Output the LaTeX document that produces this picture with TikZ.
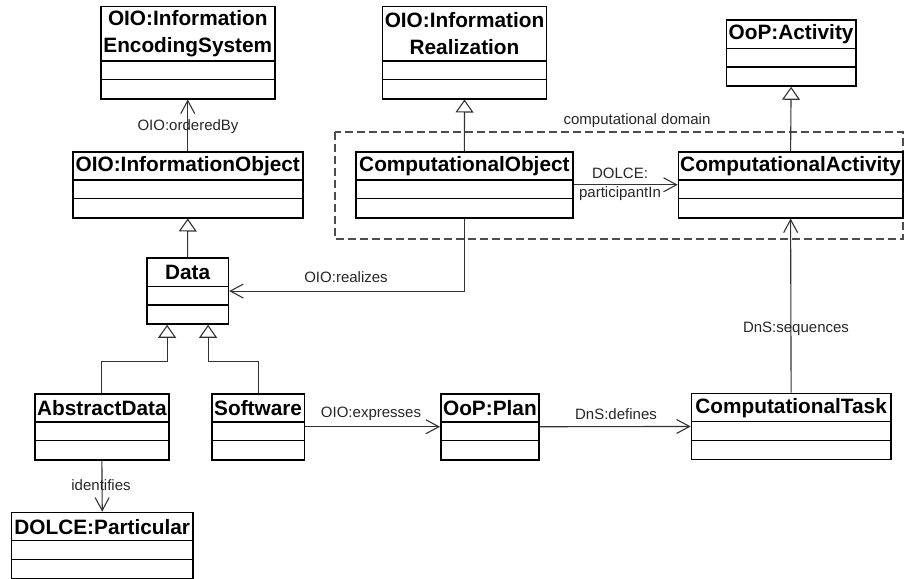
\documentclass[tikz,border=0pt]{standalone}
\usepackage{fontspec}
\setmainfont{Liberation Sans}
\usetikzlibrary{arrows.meta,calc}

\tikzset{
  umlbox/.style={draw=black, line width=1.5pt, fill=white, inner sep=0pt, anchor=north west},
  umltitle/.style={font=\fontsize{20.8}{27}\selectfont\bfseries, align=center, inner sep=0pt},
  umlrule/.style={draw=black, line width=1.4pt},
  assoc/.style={draw=black!80, line width=1.1pt,
    -{Straight Barb[length=13pt,width=14pt,line width=1.1pt]}},
  gen/.style={draw=black!80, line width=1.1pt,
    -{Triangle[open,length=13pt,width=18pt,line width=1.1pt]}},
  lbl/.style={font=\fontsize{15}{19}\selectfont, text=black!85, inner sep=0pt, align=center},
  domainbox/.style={draw=black!70, line width=1.2pt, dash pattern=on 8pt off 4pt},
}

% UML class: name, left x, top y, right x, title height, title text
\newcommand{\umlclass}[6]{%
  \node[umlbox, minimum width={#4-#2}, minimum height={#5+37}] (#1) at (#2,#3) {};
  \node[umltitle] (#1-title) at ($(#1.north)+(0,#5/2+0.5)$) {#6};
  \draw[umlrule] ($(#1.north west)+(0,#5)$) -- ($(#1.north east)+(0,#5)$);
  \draw[umlrule] ($(#1.north west)+(0,#5+18.5)$) -- ($(#1.north east)+(0,#5+18.5)$);
}

\begin{document}
\begin{tikzpicture}[x=1pt,y=-1pt]
\useasboundingbox (0,0) rectangle (904,578);

% computational domain frame
\draw[domainbox] (335,132) rectangle (903,239);
\node[lbl] (domain-label) at (637,121) {computational domain};

% classes
\umlclass{ies}{100}{6}{274}{55}{OIO:Information\\EncodingSystem}
\umlclass{ir}{381.7}{6}{545.8}{55}{OIO:Information\\Realization}
\umlclass{act}{725.7}{19.3}{855}{29}{OoP:Activity}
\umlclass{io}{72}{151}{302}{29}{OIO:InformationObject}
\umlclass{co}{355}{151}{572.3}{29}{ComputationalObject}
\umlclass{ca}{677.7}{151}{902}{29}{ComputationalActivity}
\umlclass{data}{146}{257.3}{227.7}{29}{Data}
\umlclass{ad}{34}{393}{168.3}{29}{AbstractData}
\umlclass{sw}{211}{393}{303.7}{29}{Software}
\umlclass{plan}{440}{393}{538.3}{29}{OoP:Plan}
\umlclass{task}{690.7}{392.7}{890}{29}{ComputationalTask}
\umlclass{part}{10.7}{511.7}{192.3}{29}{DOLCE:Particular}

% generalizations
\draw[gen] (data.north) -- (io.south);
\draw[gen] (co.north) -- (ir.south);
\draw[gen] (ca.north) -- (act.south);
\draw[gen] (ad.north) -- ++(0,-31.3) -| ($(data.south)+(-20.5,0)$);
\draw[gen] (sw.north) -- ++(0,-31.3) -| ($(data.south)+(20.5,0)$);

% associations
\draw[assoc] (io.north) -- (ies.south);
\node[lbl] (ordered-label) at (188,127) {OIO:orderedBy};

\draw[assoc] (co.east) -- (ca.west);
\node[lbl] (part-label) at (620,184.5) {DOLCE:\\participantIn};

\draw[assoc] (co.south) |- (data.east);
\node[lbl] (realizes-label) at (346,277) {OIO:realizes};

\draw[assoc] (task.north) -- (ca.south);
\node[lbl] (seq-label) at (796,329) {DnS:sequences};

\draw[assoc] (sw.east) -- (plan.west);
\node[lbl] (expr-label) at (371,414) {OIO:expresses};

\draw[assoc] (plan.east) -- (task.west);
\node[lbl] (def-label) at (616,414) {DnS:defines};

\draw[assoc] (ad.south) -- (part.north);
\node[lbl] (ident-label) at (101,485) {identifies};
\end{tikzpicture}
\end{document}
